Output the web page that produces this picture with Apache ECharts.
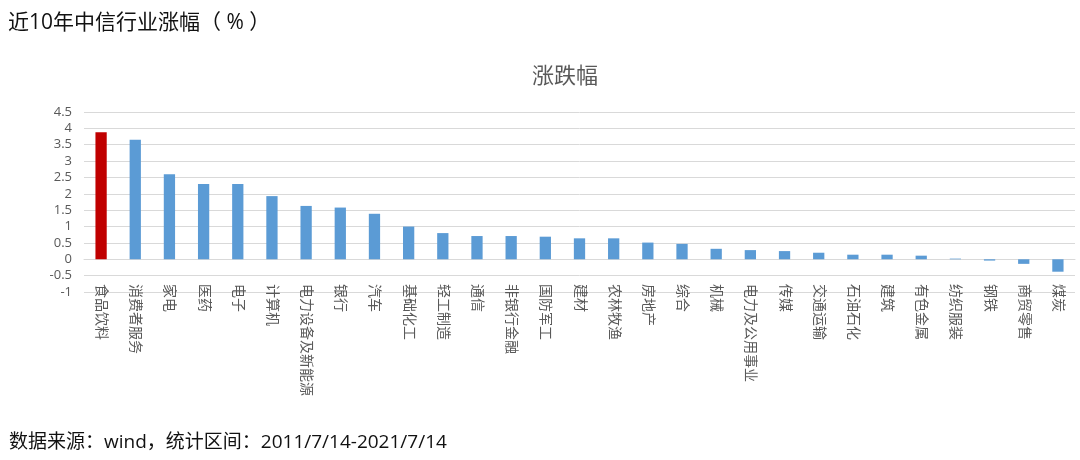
<!DOCTYPE html>
<html>
<head>
<meta charset="utf-8">
<script src="https://cdn.jsdelivr.net/npm/echarts@6/dist/echarts.min.js"></script>
<style>
  html, body { margin: 0; padding: 0; background: #fff; }
  #chart { width: 1080px; height: 460px; }
</style>
</head>
<body>
<div id="chart"></div>
<script>
const categories = ['食品饮料', '消费者服务', '家电', '医药', '电子', '计算机', '电力设备及新能源', '银行', '汽车', '基础化工',
  '轻工制造', '通信', '非银行金融', '国防军工', '建材', '农林牧渔', '房地产', '综合', '机械', '电力及公用事业',
  '传媒', '交通运输', '石油石化', '建筑', '有色金属', '纺织服装', '钢铁', '商贸零售', '煤炭'];
const values = [3.88, 3.65, 2.6, 2.3, 2.3, 1.93, 1.63, 1.58, 1.39, 1.0,
  0.8, 0.71, 0.71, 0.69, 0.64, 0.64, 0.51, 0.47, 0.32, 0.28,
  0.25, 0.2, 0.14, 0.14, 0.11, 0.02, -0.04, -0.14, -0.38];
const highlightColor = '#C00000';
const barColor = '#5B9BD5';

const font = '"Open Sans", "Noto Sans CJK SC", sans-serif';
const chart = echarts.init(document.getElementById('chart'));

chart.setOption({
  animation: false,
  textStyle: { fontFamily: font },
  title: [
    { text: '近10年中信行业涨幅（ % ）', left: 3, top: 8,
      textStyle: { fontSize: 21, fontWeight: 'normal', color: '#111', fontFamily: font } },
    { text: '涨跌幅', left: 527, top: 61,
      textStyle: { fontSize: 22, fontWeight: 'normal', color: '#595959', fontFamily: font } },
    { text: '数据来源：wind，统计区间：2011/7/14-2021/7/14', left: 4, top: 428,
      textStyle: { fontSize: 19, fontWeight: 'normal', color: '#111', fontFamily: font } }
  ],
  grid: { left: 84, right: 5, top: 112, bottom: 168 },
  xAxis: {
    type: 'category',
    data: categories,
    axisTick: { show: false },
    axisLine: { onZero: true, lineStyle: { color: '#d9d9d9' } },
    // labels sit just under the zero line, as in the reference
    axisLabel: { rotate: -90, interval: 0, color: '#595959', fontSize: 14, margin: -8 }
  },
  yAxis: {
    type: 'value',
    min: -1,
    max: 4.5,
    interval: 0.5,
    axisLabel: { color: '#595959', fontSize: 13, margin: 12 },
    splitLine: { lineStyle: { color: '#d9d9d9' } }
  },
  series: [{
    type: 'bar',
    barWidth: '33%',
    data: values.map((v, i) => ({ value: v, itemStyle: { color: i === 0 ? highlightColor : barColor } }))
  }]
});
</script>
</body>
</html>
